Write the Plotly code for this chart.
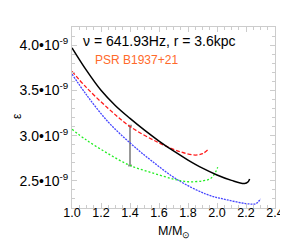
import plotly.graph_objects as go

# values in units of 1e-9
black_m = [1.0, 1.1, 1.2, 1.3, 1.4, 1.5, 1.6, 1.7, 1.8, 1.9, 2.0, 2.1, 2.19, 2.215, 2.225]
black_v = [3.97, 3.72, 3.50, 3.33, 3.19, 3.06, 2.94, 2.83, 2.73, 2.64, 2.565, 2.505, 2.47, 2.49, 2.52]

red_m = [1.0, 1.1, 1.25, 1.4, 1.6, 1.75, 1.85, 1.9, 1.935]
red_v = [3.71, 3.53, 3.30, 3.10, 2.92, 2.82, 2.785, 2.80, 2.84]

blue_m = [1.0, 1.1, 1.25, 1.4, 1.55, 1.73, 1.93, 2.07, 2.22, 2.27, 2.30]
blue_v = [3.68, 3.45, 3.15, 2.92, 2.72, 2.51, 2.35, 2.29, 2.245, 2.25, 2.30]

green_m = [1.0, 1.1, 1.25, 1.4, 1.55, 1.7, 1.8, 1.9, 1.95, 1.98, 2.005]
green_v = [3.07, 2.95, 2.80, 2.67, 2.59, 2.52, 2.49, 2.50, 2.52, 2.57, 2.65]

err_m = [1.4]
err_center = [2.89]
err_half = [0.22]

ytick_vals = [2.5, 3.0, 3.5, 4.0]
ytick_text = ["2.5•10<sup>-9</sup>", "3.0•10<sup>-9</sup>", "3.5•10<sup>-9</sup>", "4.0•10<sup>-9</sup>"]
xtick_vals = [1.0, 1.2, 1.4, 1.6, 1.8, 2.0, 2.2, 2.4]
xtick_text = ["1.0", "1.2", "1.4", "1.6", "1.8", "2.0", "2.2", "2.4"]

FONT = "Liberation Sans, Arial, Helvetica, sans-serif"

fig = go.Figure()
fig.add_trace(go.Scatter(x=err_m, y=err_center, mode="markers",
                         marker=dict(size=1, color="rgba(0,0,0,0)"),
                         error_y=dict(type="data", array=err_half, color="#999999",
                                      thickness=2, width=2),
                         showlegend=False, hoverinfo="skip"))
fig.add_trace(go.Scatter(x=red_m, y=red_v, mode="lines", line_shape="spline",
                         line=dict(color="#ff1a1a", width=1.3, dash="4px,2px"), showlegend=False))
fig.add_trace(go.Scatter(x=blue_m, y=blue_v, mode="lines", line_shape="spline",
                         line=dict(color="#4646ff", width=1.3, dash="2px,1px"), showlegend=False))
fig.add_trace(go.Scatter(x=green_m, y=green_v, mode="lines", line_shape="spline",
                         line=dict(color="#22ee22", width=1.3, dash="2px,2px"), showlegend=False))
fig.add_trace(go.Scatter(x=black_m, y=black_v, mode="lines", line_shape="spline",
                         line=dict(color="#000000", width=1.5), showlegend=False))

axis_common = dict(showline=True, linecolor="#cccccc", linewidth=1, mirror="allticks",
                   ticks="inside", ticklen=5, tickcolor="#cccccc", showgrid=False,
                   zeroline=False)

fig.update_xaxes(range=[1.0, 2.4], tickvals=xtick_vals, ticktext=xtick_text,
                 tickfont=dict(family=FONT, size=12.5, color="#000"),
                 ticklabelstandoff=-7,
                 minor=dict(dtick=0.05, tick0=1.0, ticks="inside", ticklen=3, tickcolor="#cccccc"),
                 **axis_common)
fig.update_yaxes(range=[2.2, 4.2], tickvals=ytick_vals, ticktext=ytick_text,
                 tickfont=dict(family=FONT, size=14, color="#000"),
                 minor=dict(dtick=0.1, tick0=2.2, ticks="inside", ticklen=3, tickcolor="#cccccc"),
                 **axis_common)

fig.add_annotation(x=0.5, y=-0.13, xref="paper", yref="paper", xanchor="center", yanchor="middle",
                   text="M/M<sub>⊙</sub>", showarrow=False,
                   font=dict(family=FONT, size=12.5, color="#000"))
fig.add_annotation(x=0.045, y=0.923, xref="paper", yref="paper", xanchor="left", yanchor="middle",
                   text="ν = 641.93Hz, r = 3.6kpc", showarrow=False,
                   font=dict(family=FONT, size=14, color="#000"))
fig.add_annotation(x=0.105, y=0.818, xref="paper", yref="paper", xanchor="left", yanchor="middle",
                   text="PSR B1937+21", showarrow=False,
                   font=dict(family=FONT, size=12, color="#ff6a2a"))
fig.add_annotation(x=-0.27, y=0.51, xref="paper", yref="paper", xanchor="center", yanchor="middle",
                   text="ε", textangle=-90, showarrow=False,
                   font=dict(family=FONT, size=12, color="#000"))

fig.update_layout(width=288, height=240, autosize=False,
                  margin=dict(l=63, r=19, t=19, b=40),
                  paper_bgcolor="white", plot_bgcolor="white")

fig.write_html("out.html")
